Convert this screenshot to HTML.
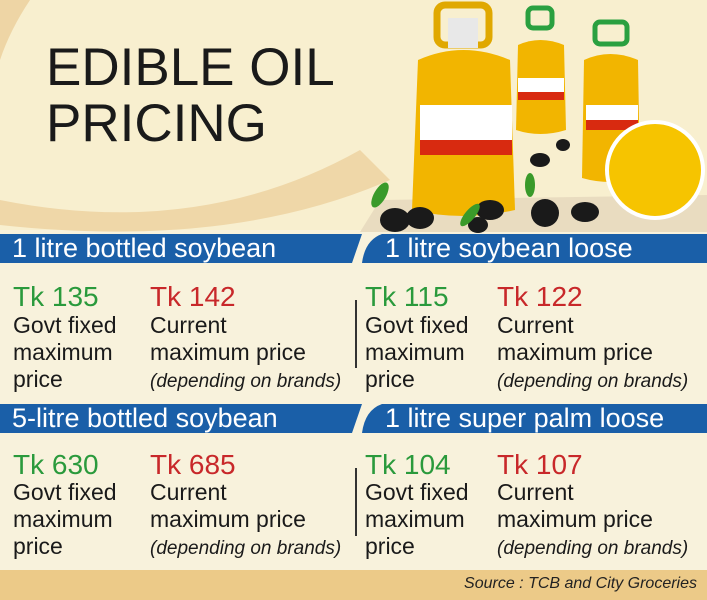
<!DOCTYPE html>
<html><head><meta charset="utf-8"><style>
body{margin:0}
#c{position:relative;width:707px;height:600px;background:#f8f2dc;overflow:hidden;font-family:"Liberation Sans",sans-serif}
.t{position:absolute;white-space:nowrap}
.g{color:#2a9a3c;font-size:28px;line-height:30px}
.r{color:#c8282a;font-size:28px;line-height:30px}
.k{color:#1a1a1a;font-size:23px;line-height:27px}
.i{font-style:italic;font-size:19px}
.vl{position:absolute;width:2px;background:#333}
.b{position:absolute;white-space:nowrap;color:#fff;font-size:27px;line-height:30px}
</style></head><body><div id="c">
<svg width="707" height="600" style="position:absolute;left:0;top:0">
<path d="M0 0 L707 0 L707 230 L0 230Z" fill="#f8efcf"/>
<path d="M0 200 Q200 240 360 150 L390 180 Q230 250 0 225Z" fill="#efd7a8"/>
<path d="M0 0 L30 0 Q10 30 0 60Z" fill="#eed5a5"/>
<path d="M380 200 L707 195 L707 232 L360 232Z" fill="#e9dcc0"/>
<g>
<rect x="437" y="5" width="52" height="40" rx="8" fill="none" stroke="#e0a800" stroke-width="7"/>
<rect x="448" y="18" width="30" height="30" fill="#e8e8e8"/>
<path d="M418 60 Q463 40 510 60 L515 210 Q463 222 412 210Z" fill="#f2b500"/>
<rect x="420" y="105" width="92" height="50" fill="#fff"/>
<rect x="420" y="140" width="92" height="15" fill="#d82a10"/>
<rect x="528" y="8" width="24" height="20" rx="5" fill="none" stroke="#2aa040" stroke-width="5"/>
<path d="M518 45 Q540 35 564 45 L566 130 Q540 138 516 130Z" fill="#f2b500"/>
<rect x="518" y="78" width="46" height="22" fill="#fff"/>
<rect x="518" y="92" width="46" height="8" fill="#d82a10"/>
<rect x="595" y="22" width="32" height="22" rx="5" fill="none" stroke="#2aa040" stroke-width="5"/>
<path d="M584 60 Q610 48 638 60 L640 178 Q610 186 582 178Z" fill="#f2b500"/>
<rect x="586" y="105" width="52" height="25" fill="#fff"/>
<rect x="586" y="120" width="52" height="10" fill="#d82a10"/>
<circle cx="655" cy="170" r="48" fill="#f6c400" stroke="#fff" stroke-width="4"/>
<g fill="#1a1a1a"><ellipse cx="395" cy="220" rx="15" ry="12"/><ellipse cx="420" cy="218" rx="14" ry="11"/><ellipse cx="490" cy="210" rx="14" ry="10"/><ellipse cx="545" cy="213" rx="14" ry="14"/><ellipse cx="585" cy="212" rx="14" ry="10"/><ellipse cx="540" cy="160" rx="10" ry="7"/><ellipse cx="563" cy="145" rx="7" ry="6"/><ellipse cx="478" cy="225" rx="10" ry="8"/></g>
<g fill="#3a9a2a"><ellipse cx="380" cy="195" rx="6" ry="14" transform="rotate(30 380 195)"/><ellipse cx="530" cy="185" rx="5" ry="12"/><ellipse cx="470" cy="215" rx="5" ry="14" transform="rotate(40 470 215)"/></g>
</g>
<path d="M0 234 L362 234 L352 263 L0 263Z" fill="#1a5fa8"/>
<path d="M382 234 L707 234 L707 263 L362 263 Q365 240 382 234Z" fill="#1a5fa8"/>
<path d="M0 404 L362 404 L352 433 L0 433Z" fill="#1a5fa8"/>
<path d="M382 404 L707 404 L707 433 L362 433 Q365 410 382 404Z" fill="#1a5fa8"/>
<rect x="0" y="570" width="707" height="30" fill="#ecca88"/>
</svg>
<div class="t" style="left:46px;top:40px;font-size:53px;line-height:56px;color:#1a1a1a">EDIBLE OIL<br>PRICING</div>
<div class="b" style="left:12px;top:233px">1 litre bottled soybean</div>
<div class="b" style="left:385px;top:233px">1 litre soybean loose</div>
<div class="b" style="left:12px;top:403px">5-litre bottled soybean</div>
<div class="b" style="left:385px;top:403px">1 litre super palm loose</div>

<div class="t g" style="left:13px;top:282px">Tk 135</div>
<div class="t r" style="left:150px;top:282px">Tk 142</div>
<div class="t k" style="left:13px;top:312px">Govt fixed<br>maximum<br>price</div>
<div class="t k" style="left:150px;top:312px">Current<br>maximum price<br><span class="i">(depending on brands)</span></div>
<div class="vl" style="left:355px;top:300px;height:68px"></div>
<div class="t g" style="left:365px;top:282px">Tk 115</div>
<div class="t r" style="left:497px;top:282px">Tk 122</div>
<div class="t k" style="left:365px;top:312px">Govt fixed<br>maximum<br>price</div>
<div class="t k" style="left:497px;top:312px">Current<br>maximum price<br><span class="i">(depending on brands)</span></div>

<div class="t g" style="left:13px;top:450px">Tk 630</div>
<div class="t r" style="left:150px;top:450px">Tk 685</div>
<div class="t k" style="left:13px;top:479px">Govt fixed<br>maximum<br>price</div>
<div class="t k" style="left:150px;top:479px">Current<br>maximum price<br><span class="i">(depending on brands)</span></div>
<div class="vl" style="left:355px;top:468px;height:68px"></div>
<div class="t g" style="left:365px;top:450px">Tk 104</div>
<div class="t r" style="left:497px;top:450px">Tk 107</div>
<div class="t k" style="left:365px;top:479px">Govt fixed<br>maximum<br>price</div>
<div class="t k" style="left:497px;top:479px">Current<br>maximum price<br><span class="i">(depending on brands)</span></div>

<div class="t" style="right:10px;top:575px;font-size:16px;font-style:italic;color:#222">Source : TCB and City Groceries</div>
</div></body></html>
